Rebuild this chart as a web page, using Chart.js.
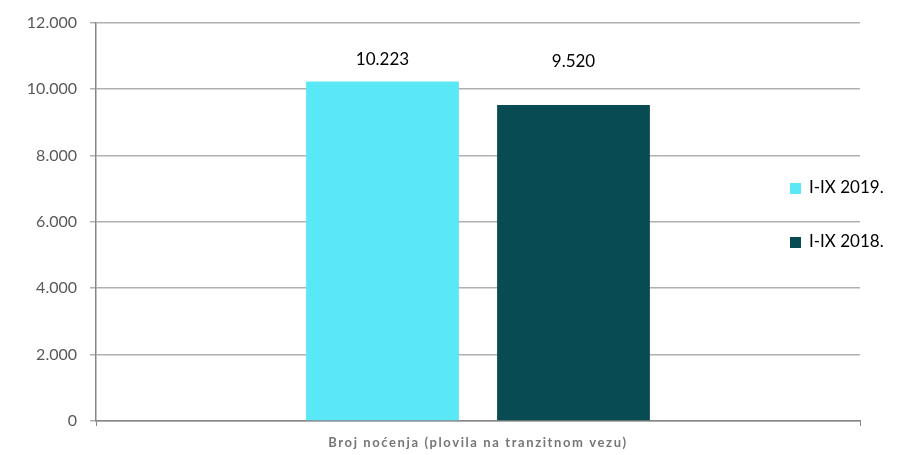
<!DOCTYPE html>
<html>
<head>
<meta charset="utf-8">
<script src="https://cdn.jsdelivr.net/npm/chart.js@4"></script>
<style>
  html, body { margin: 0; padding: 0; background: #fff; }
  #wrap { width: 914px; height: 455px; }
</style>
</head>
<body>
<div id="wrap"><canvas id="chart" width="914" height="455"></canvas></div>
<script>
// podaci
const categories = ['Broj noćenja (plovila na tranzitnom vezu)'];
const seriesNames = ['I-IX 2019.', 'I-IX 2018.'];
const values2019 = [10223];
const values2018 = [9520];
const yTicks = [0, 2000, 4000, 6000, 8000, 10000, 12000];

const colors = ['#5AE7F6', '#094B53'];
const FONT = "Lato, 'Open Sans', sans-serif";

// 10223 -> "10.223"
const fmt = v => String(v).replace(/\B(?=(\d{3})+(?!\d))/g, '.');

// oznake vrijednosti iznad stupaca
const valueLabels = {
    id: 'valueLabels',
    afterDatasetsDraw(chart) {
        const ctx = chart.ctx;
        const yScale = chart.scales.y;
        ctx.save();
        ctx.font = "17px " + FONT;
        ctx.fillStyle = '#000';
        ctx.textAlign = 'center';
        ctx.textBaseline = 'middle';
        chart.data.datasets.forEach((ds, i) => {
            chart.getDatasetMeta(i).data.forEach((bar, j) => {
                // Excel ih je stavio otprilike na istu visinu
                const y = yScale.getPixelForValue(10900) + i * 2;
                ctx.fillText(fmt(ds.data[j]), bar.x, y);
            });
        });
        ctx.restore();
    }
};

// naziv kategorije (s razmakom slova kao u Excelu)
const categoryLabel = {
    id: 'categoryLabel',
    afterDraw(chart) {
        const ctx = chart.ctx;
        const xScale = chart.scales.x;
        ctx.save();
        ctx.font = "bold 13px " + FONT;
        ctx.letterSpacing = '1.6px';
        ctx.fillStyle = '#767676';
        ctx.textAlign = 'center';
        ctx.textBaseline = 'middle';
        chart.data.labels.forEach((lab, i) => {
            ctx.fillText(lab, xScale.getPixelForValue(i), xScale.bottom - 12);
        });
        ctx.restore();
    }
};

// legenda preko desnog dijela grafa
const overlayLegend = {
    id: 'overlayLegend',
    afterDraw(chart) {
        const ctx = chart.ctx;
        ctx.save();
        ctx.font = "17px " + FONT;
        ctx.textBaseline = 'middle';
        ctx.textAlign = 'left';
        chart.data.datasets.forEach((ds, i) => {
            const cy = 188 + i * 54;
            ctx.fillStyle = ds.backgroundColor;
            ctx.fillRect(790, cy - 5, 11, 11);
            ctx.fillStyle = '#000';
            ctx.fillText(ds.label, 809, cy);
        });
        ctx.restore();
    }
};

new Chart(document.getElementById('chart'), {
    type: 'bar',
    data: {
        labels: categories,
        datasets: [
            { label: seriesNames[0], data: values2019, backgroundColor: colors[0] },
            { label: seriesNames[1], data: values2018, backgroundColor: colors[1] }
        ]
    },
    options: {
        responsive: false,
        animation: false,
        devicePixelRatio: 1,
        layout: { padding: { left: 0, right: 54, top: 21, bottom: 0 } },
        categoryPercentage: 0.5,
        barPercentage: 0.8,
        plugins: {
            legend: { display: false },
            tooltip: { enabled: false }
        },
        scales: {
            x: {
                afterFit(scale) { scale.height = 34; },
                grid: {
                    offset: true,
                    drawOnChartArea: false,
                    color: '#868686',
                    tickLength: 5
                },
                border: { color: '#868686', width: 1.5 },
                ticks: { display: false }
            },
            y: {
                min: 0,
                max: 12000,
                afterFit(scale) { scale.width = 96; },
                afterBuildTicks(scale) { scale.ticks = yTicks.map(v => ({ value: v })); },
                grid: { color: '#B0B0B0', lineWidth: 1.5, tickLength: 6 },
                border: { color: '#868686', width: 1.5 },
                ticks: {
                    color: '#595959',
                    padding: 13,
                    font: { family: FONT, size: 16 },
                    callback: v => fmt(v)
                }
            }
        }
    },
    plugins: [valueLabels, categoryLabel, overlayLegend]
});
</script>
</body>
</html>
